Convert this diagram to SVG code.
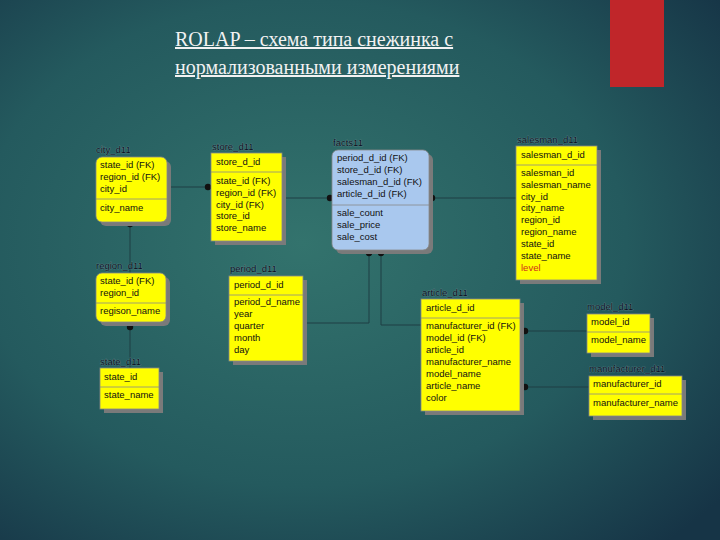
<svg xmlns="http://www.w3.org/2000/svg" width="720" height="540" viewBox="0 0 720 540">
<defs>
<radialGradient id="bg" cx="0.42" cy="0.45" r="0.75">
<stop offset="0" stop-color="#33736d"/>
<stop offset="0.6" stop-color="#245a5e"/>
<stop offset="1" stop-color="#163446"/>
</radialGradient>
</defs>
<style>
.t{font-family:"Liberation Sans",Arial,sans-serif;font-size:9.5px;fill:#111}
.lbl{font-family:"Liberation Sans",Arial,sans-serif;font-size:9.5px;fill:#06101e;stroke:#6f8f94;stroke-width:0.6px;paint-order:stroke}
.box{fill:#ffff00;stroke:#888;stroke-width:0.8}
.fb{fill:#a9c8ee;stroke:#888;stroke-width:0.8}
.sh{fill:#7a7a7a}
.dv{stroke:#888;stroke-width:0.8}
.ln{stroke:#1f3f44;stroke-width:1;fill:none}
.dot{fill:#111}
.title{font-family:"Liberation Serif","DejaVu Serif","Times New Roman",serif;font-size:20px;fill:#f2f2f2;text-decoration:underline}
</style>
<rect width="720" height="540" fill="url(#bg)"/>
<rect x="610" y="0" width="54" height="87" fill="#c0262a"/>
<text class="title" x="175" y="46">ROLAP – схема типа снежинка с</text>
<text class="title" x="175" y="74">нормализованными измерениями </text>

<g id="connectors">
<line class="ln" x1="167" y1="187" x2="211" y2="187"/><circle class="dot" cx="208" cy="187" r="3.2"/>
<line class="ln" x1="282" y1="198" x2="332" y2="198"/><circle class="dot" cx="330" cy="198" r="3.2"/>
<line class="ln" x1="429" y1="198" x2="516" y2="198"/><circle class="dot" cx="432" cy="198" r="3.2"/>
<line class="ln" x1="130" y1="222" x2="130" y2="273"/><circle class="dot" cx="130" cy="224" r="3.2"/>
<line class="ln" x1="130" y1="322" x2="130" y2="368"/><circle class="dot" cx="130" cy="327" r="3.2"/>
<polyline class="ln" points="369,250 369,323 303,323"/><circle class="dot" cx="369" cy="253" r="3.2"/>
<polyline class="ln" points="381,250 381,325 421,325"/><circle class="dot" cx="381" cy="253" r="3.2"/>
<line class="ln" x1="520" y1="331" x2="587" y2="331"/><circle class="dot" cx="525" cy="331" r="3.2"/>
<line class="ln" x1="520" y1="387" x2="589" y2="387"/><circle class="dot" cx="525" cy="387" r="3.2"/>
</g>

<g id="city_d11">
<text class="lbl" x="96" y="153">city_d11</text>
<rect class="sh" x="100" y="161" width="71" height="65" rx="6"/>
<rect class="box" x="96" y="157" width="71" height="65" rx="6"/>
<line class="dv" x1="96" y1="199" x2="167" y2="199"/>
<text class="t" x="100" y="168">state_id (FK)</text><text class="t" x="100" y="180">region_id (FK)</text><text class="t" x="100" y="192">city_id</text><text class="t" x="100" y="211">city_name</text>
</g>

<g id="store_d11">
<text class="lbl" x="212" y="150">store_d11</text>
<rect class="sh" x="215" y="157" width="71" height="88"/>
<rect class="box" x="211" y="153" width="71" height="88"/>
<line class="dv" x1="211" y1="172" x2="282" y2="172"/>
<text class="t" x="216" y="165">store_d_id</text><text class="t" x="216" y="184">state_id (FK)</text><text class="t" x="216" y="196">region_id (FK)</text><text class="t" x="216" y="208">city_id (FK)</text><text class="t" x="216" y="219">store_id</text><text class="t" x="216" y="231">store_name</text>
</g>

<g id="facts11">
<text class="lbl" x="333" y="146">facts11</text>
<rect class="sh" x="336" y="154" width="97" height="100" rx="6"/>
<rect class="fb" x="332" y="150" width="97" height="100" rx="6"/>
<line class="dv" x1="332" y1="205" x2="429" y2="205"/>
<text class="t" x="337" y="161">period_d_id (FK)</text><text class="t" x="337" y="173">store_d_id (FK)</text><text class="t" x="337" y="185">salesman_d_id (FK)</text><text class="t" x="337" y="197">article_d_id (FK)</text><text class="t" x="337" y="216">sale_count</text><text class="t" x="337" y="228">sale_price</text><text class="t" x="337" y="240">sale_cost</text>
</g>

<g id="salesman_d11">
<text class="lbl" x="517" y="143">salesman_d11</text>
<rect class="sh" x="520" y="150" width="81" height="134"/>
<rect class="box" x="516" y="146" width="81" height="134"/>
<line class="dv" x1="516" y1="165" x2="597" y2="165"/>
<text class="t" x="521" y="158">salesman_d_id</text><text class="t" x="521" y="176">salesman_id</text><text class="t" x="521" y="188">salesman_name</text><text class="t" x="521" y="200">city_id</text><text class="t" x="521" y="211">city_name</text><text class="t" x="521" y="223">region_id</text><text class="t" x="521" y="235">region_name</text><text class="t" x="521" y="247">state_id</text><text class="t" x="521" y="259">state_name</text><text class="t" x="521" y="271" style="fill:#d0301a">level</text>
</g>

<g id="region_d11">
<text class="lbl" x="96" y="269">region_d11</text>
<rect class="sh" x="100" y="277" width="70" height="49" rx="6"/>
<rect class="box" x="96" y="273" width="70" height="49" rx="6"/>
<line class="dv" x1="96" y1="303" x2="166" y2="303"/>
<text class="t" x="100" y="284">state_id (FK)</text><text class="t" x="100" y="296">region_id</text><text class="t" x="100" y="314">regison_name</text>
</g>

<g id="state_d11">
<text class="lbl" x="100" y="365">state_d11</text>
<rect class="sh" x="104" y="372" width="59" height="41"/>
<rect class="box" x="100" y="368" width="59" height="41"/>
<line class="dv" x1="100" y1="387" x2="159" y2="387"/>
<text class="t" x="104" y="380">state_id</text><text class="t" x="104" y="398">state_name</text>
</g>

<g id="period_d11">
<text class="lbl" x="230" y="272">period_d11</text>
<rect class="sh" x="233" y="280" width="74" height="85"/>
<rect class="box" x="229" y="276" width="74" height="85"/>
<line class="dv" x1="229" y1="295" x2="303" y2="295"/>
<text class="t" x="234" y="288">period_d_id</text><text class="t" x="234" y="305">period_d_name</text><text class="t" x="234" y="317">year</text><text class="t" x="234" y="329">quarter</text><text class="t" x="234" y="341">month</text><text class="t" x="234" y="353">day</text>
</g>

<g id="article_d11">
<text class="lbl" x="422" y="296">article_d11</text>
<rect class="sh" x="425" y="303" width="99" height="112"/>
<rect class="box" x="421" y="299" width="99" height="112"/>
<line class="dv" x1="421" y1="318" x2="520" y2="318"/>
<text class="t" x="426" y="311">article_d_id</text><text class="t" x="426" y="329">manufacturer_id (FK)</text><text class="t" x="426" y="341">model_id (FK)</text><text class="t" x="426" y="353">article_id</text><text class="t" x="426" y="365">manufacturer_name</text><text class="t" x="426" y="377">model_name</text><text class="t" x="426" y="389">article_name</text><text class="t" x="426" y="401">color</text>
</g>

<g id="model_d11">
<text class="lbl" x="587" y="310">model_d11</text>
<rect class="sh" x="591" y="318" width="63" height="39"/>
<rect class="box" x="587" y="314" width="63" height="39"/>
<line class="dv" x1="587" y1="332" x2="650" y2="332"/>
<text class="t" x="591" y="325">model_id</text><text class="t" x="591" y="343">model_name</text>
</g>

<g id="manufacturer_d11">
<text class="lbl" x="589" y="372">manufacturer_d11</text>
<rect class="sh" x="593" y="380" width="93" height="40"/>
<rect class="box" x="589" y="376" width="93" height="40"/>
<line class="dv" x1="589" y1="394" x2="682" y2="394"/>
<text class="t" x="593" y="387">manufacturer_id</text><text class="t" x="593" y="406">manufacturer_name</text>
</g>
</svg>
